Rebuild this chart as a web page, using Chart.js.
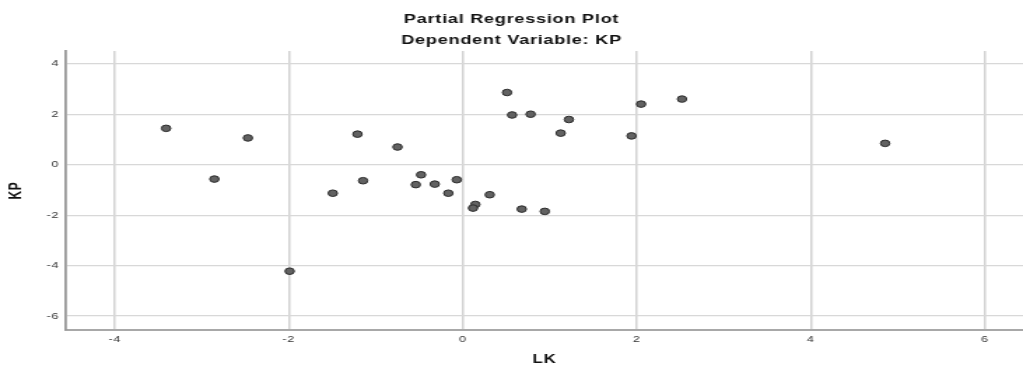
<!DOCTYPE html>
<html>
<head>
<meta charset="utf-8">
<script src="https://cdn.jsdelivr.net/npm/chart.js@4/dist/chart.umd.min.js"></script>
<style>
  html, body { margin: 0; padding: 0; background: #fff; overflow: hidden; }
  /* el grafico original viene estirado en horizontal */
  #marco { width: 731px; height: 367px; transform: scaleX(1.39945); transform-origin: 0 0; }
  canvas { display: block; }
</style>
</head>
<body>
<div id="marco">
  <canvas id="chartPRP" width="731" height="367"></canvas>
</div>
<script>
// LK residuals (x) and KP residuals (y)
const lk = [-3.41, -2.47, -2.855, -1.494, -1.99, -1.21, -0.75, -1.146, -0.479, -0.54,
  -0.322, -0.166, -0.069, 0.145, 0.118, 0.31, 0.678, 0.943, 0.509, 0.567,
  0.78, 1.22, 1.126, 1.94, 2.05, 2.52, 4.855];
const kp = [1.44, 1.06, -0.57, -1.13, -4.22, 1.21, 0.70, -0.635, -0.40, -0.79,
  -0.77, -1.13, -0.595, -1.575, -1.72, -1.19, -1.76, -1.85, 2.86, 1.97,
  2.0, 1.79, 1.25, 1.14, 2.40, 2.60, 0.845];
const titulo = ["Partial Regression Plot", "Dependent Variable: KP"];

const puntos = lk.map((x, i) => ({ x, y: kp[i] }));

const espaciado = {
  id: "espaciado",
  beforeDraw(chart) { chart.ctx.letterSpacing = "0.5px"; },
  afterDraw(chart) { chart.ctx.letterSpacing = "0px"; },
};

Chart.defaults.font.family = "'Liberation Sans', Arial, sans-serif";

new Chart(document.getElementById("chartPRP"), {
  type: "scatter",
  data: {
    datasets: [
      {
        data: puntos,
        pointRadius: 3.3,
        pointHoverRadius: 3.3,
        backgroundColor: "#626262",
        borderColor: "#2b2b2b",
        borderWidth: 1,
      },
    ],
  },
  plugins: [espaciado],
  options: {
    responsive: false,
    animation: false,
    layout: { padding: 0, autoPadding: false },
    plugins: {
      legend: { display: false },
      tooltip: { enabled: false },
      title: {
        display: true,
        text: titulo,
        color: "#111",
        font: { size: 13, weight: "bold", lineHeight: 1.62 },
        padding: { top: 9, bottom: 0 },
      },
    },
    scales: {
      x: {
        type: "linear",
        min: -4.56,
        max: 6.44,
        grid: { color: "#d2d2d2", lineWidth: 1.5, drawTicks: false },
        border: { display: true, color: "#a8a8a8", width: 2 },
        ticks: {
          stepSize: 2,
          includeBounds: false,
          color: "#333",
          font: { size: 9 },
          padding: 4,
        },
        title: {
          display: true,
          text: "LK",
          color: "#111",
          font: { size: 12, weight: "bold" },
          padding: { top: 3, bottom: 0 },
        },
        afterFit: (s) => {
          s.height = 37;
          s.paddingLeft = 0;
          s.paddingRight = 0;
        },
      },
      y: {
        type: "linear",
        min: -6.55,
        max: 4.5,
        grid: { color: "#d8d8d8", lineWidth: 1.3, drawTicks: false },
        border: { display: true, color: "#999", width: 1.8 },
        ticks: {
          stepSize: 2,
          includeBounds: false,
          color: "#333",
          font: { size: 9 },
          padding: 5,
        },
        title: {
          display: true,
          text: "KP",
          color: "#111",
          font: { size: 12, weight: "bold" },
          padding: { top: 4, bottom: 4 },
        },
        afterFit: (s) => { s.width = 47.2; },
      },
    },
  },
});
</script>
</body>
</html>
